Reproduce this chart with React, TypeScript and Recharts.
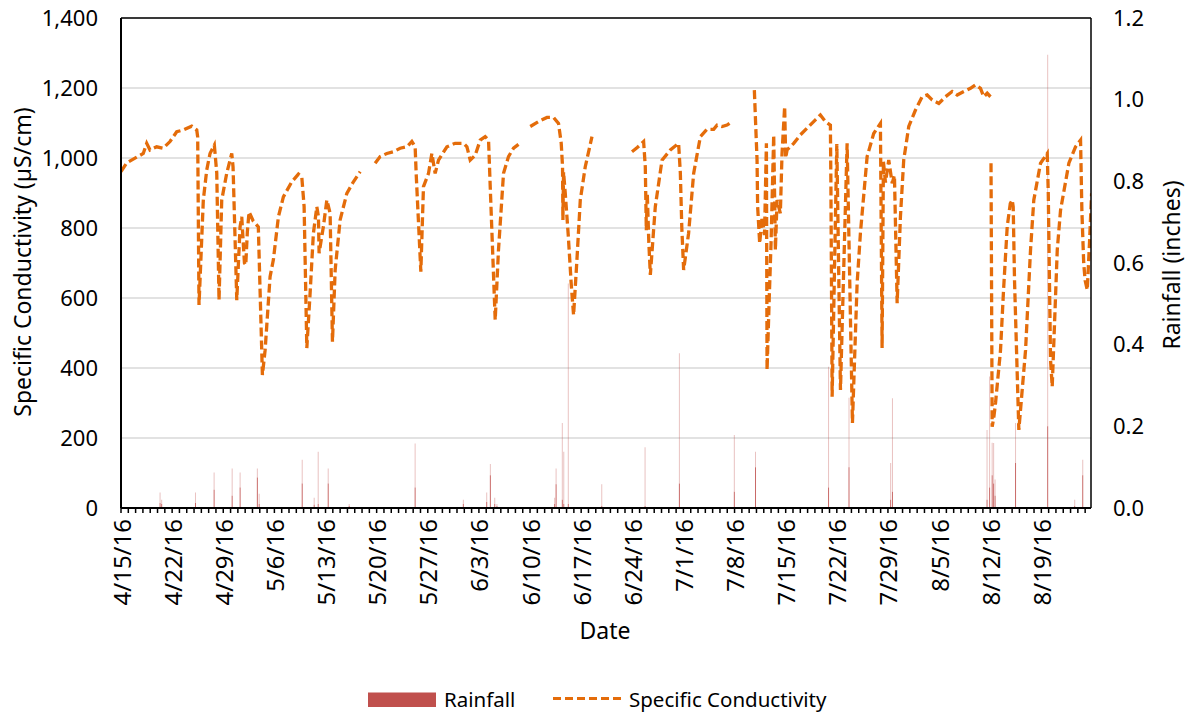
import React from 'react';
import {
  ComposedChart,
  Bar,
  Line,
  XAxis,
  YAxis,
  CartesianGrid,
  ReferenceLine,
  Legend,
} from 'recharts';

// days are counted from 4/15/16
const weekLabels = [
  '4/15/16', '4/22/16', '4/29/16', '5/6/16', '5/13/16', '5/20/16', '5/27/16',
  '6/3/16', '6/10/16', '6/17/16', '6/24/16', '7/1/16', '7/8/16', '7/15/16',
  '7/22/16', '7/29/16', '8/5/16', '8/12/16', '8/19/16',
];
const dayTicks = Array.from({ length: 133 }, (_, i) => i);

const condTicks = [0, 200, 400, 600, 800, 1000, 1200, 1400];
const rainTicks = [0, 0.2, 0.4, 0.6, 0.8, 1.0, 1.2];

// rainfall (inches): peak bar height and the darker, repeated part at its base
const rainDay = [
  5.38, 5.6, 10.23, 12.78, 15.25, 16.34, 18.7, 18.95, 24.84, 26.48, 27.03,
  28.4, 31.27, 40.3, 46.9, 50.1, 50.6, 51.2, 51.5, 59.4, 59.6, 60.45, 60.65,
  61.27, 65.85, 71.78, 76.48, 84.0, 86.9, 96.9, 99.7, 105.4, 105.65, 118.6,
  118.95, 119.3, 119.5, 119.7, 122.5, 126.9, 130.6, 131.7,
];
const rainPeak = [
  0.038, 0.02, 0.038, 0.087, 0.097, 0.087, 0.097, 0.035, 0.118, 0.025, 0.138,
  0.097, 0.01, 0.158, 0.02, 0.038, 0.108, 0.025, 0.01, 0.025, 0.097, 0.208, 0.138,
  0.55, 0.058, 0.149, 0.379, 0.179, 0.138, 0.346, 0.27, 0.11, 0.269, 0.191,
  0.322, 0.16, 0.159, 0.07, 0.208, 1.11, 0.02, 0.118,
];
const rainCore = [
  0.012, 0.01, 0.012, 0.045, 0.03, 0.05, 0.075, 0.01, 0.06, 0.008, 0.01,
  0.06, 0.005, 0.05, 0.01, 0.015, 0.08, 0.01, 0.005, 0.01, 0.058, 0.02, 0.01,
  0.01, 0.005, 0.005, 0.06, 0.04, 0.1, 0.05, 0.1, 0.02, 0.04, 0.02,
  0.05, 0.08, 0.06, 0.03, 0.11, 0.2, 0.005, 0.08,
];

// specific conductivity (µS/cm), [day, value], one array per logged stretch
const condApr: [number, number][] = [
  [0, 961], [0.78, 986], [3.05, 1013], [3.52, 1042], [3.97, 1023], [4.89, 1032],
  [5.79, 1028], [6.71, 1047], [7.63, 1075], [8.53, 1080], [9.68, 1091], [10.37, 1080],
  [10.5, 1060], [10.68, 580], [11.27, 880], [11.74, 966], [12.19, 1013], [12.78, 1037],
  [13.11, 957], [13.42, 594], [13.79, 880], [14.48, 957], [15.16, 1013], [15.34, 975],
  [15.85, 594], [16.3, 803], [16.53, 832], [16.9, 700], [17.08, 694], [17.3, 790],
  [17.53, 846], [18.1, 820], [18.8, 803], [19.36, 380], [19.73, 451], [20.41, 661],
  [20.86, 709], [21.55, 832], [22.23, 889], [23.38, 932], [24.29, 954], [24.75, 946],
  [25.07, 861], [25.44, 457], [25.89, 614], [26.34, 785], [26.81, 861], [27.03, 832],
  [27.12, 728], [27.71, 804], [28.18, 880], [28.63, 842], [28.95, 475], [29.32, 680],
  [30.0, 823], [30.92, 899], [31.82, 932], [32.74, 961],
];
const condMay: [number, number][] = [
  [34.79, 985], [35.48, 1004], [36.4, 1013], [37.3, 1018], [38.22, 1028], [39.14, 1032],
  [39.82, 1047], [40.27, 1032], [40.41, 956], [41.05, 675], [41.41, 918], [42.1, 956],
  [42.56, 1013], [43.01, 956], [43.47, 994], [44.62, 1032], [45.75, 1042], [46.89, 1042],
  [47.36, 1032], [47.81, 994], [48.49, 1008], [49.18, 1051], [49.86, 1061], [50.32, 1051],
  [50.55, 918], [51.23, 537], [51.68, 737], [52.37, 956], [53.05, 1004], [53.74, 1028],
  [54.42, 1039],
];
const condJun: [number, number][] = [
  [56.03, 1090], [57.16, 1104], [58.32, 1116], [59.22, 1116], [59.9, 1099], [60.27, 1042],
  [60.45, 975], [60.5, 823], [60.59, 960], [60.82, 900], [61.23, 780], [61.64, 640],
  [61.96, 551], [62.42, 709], [62.88, 880], [63.56, 975], [64.48, 1061],
];
const condJul: [number, number][] = [
  [69.96, 1018], [70.68, 1030], [71.55, 1047], [71.78, 975], [71.92, 794], [72.05, 900],
  [72.26, 760], [72.47, 666], [73.15, 861], [74.07, 994], [75.21, 1023], [76.34, 1042],
  [76.58, 956], [76.78, 800], [77.03, 680], [77.71, 785], [78.4, 956], [79.32, 1061],
  [80.23, 1082], [81.14, 1082], [81.6, 1094], [82.29, 1090], [82.97, 1094], [83.66, 1104],
];
const condJulAug: [number, number][] = [
  [86.71, 1194], [86.85, 1118], [87.08, 994], [87.16, 861], [87.44, 756], [87.77, 832],
  [88.1, 780], [88.36, 1042], [88.45, 394], [88.75, 600], [89.0, 760], [89.36, 1066],
  [89.59, 737], [89.82, 880], [90.27, 842], [90.5, 1013], [90.86, 1147], [91.0, 1000],
  [91.19, 1023], [92.1, 1042], [93.01, 1066], [94.15, 1090], [95.07, 1109], [95.75, 1123],
  [96.44, 1104], [97.12, 1094], [97.19, 928], [97.36, 318], [98.0, 1040], [98.5, 337],
  [99.41, 1042], [100.14, 243], [100.78, 642], [101.23, 785], [102.15, 1004], [103.05, 1070],
  [103.97, 1099], [104.2, 457], [104.38, 990], [104.66, 930], [105.11, 994], [105.58, 928],
  [105.89, 950], [106.26, 585], [106.71, 832], [107.16, 994], [107.85, 1090], [108.77, 1137],
  [109.68, 1175], [110.37, 1180], [111.05, 1166], [111.96, 1156], [112.88, 1175], [113.79, 1190],
  [114.48, 1180], [115.38, 1190], [116.3, 1199], [116.99, 1209], [117.67, 1199], [118.12, 1175],
  [118.59, 1185], [119.04, 1175],
];
const condAug: [number, number][] = [
  [119.11, 985], [119.27, 232], [119.5, 260], [119.73, 300], [120.41, 450], [120.82, 620],
  [121.33, 804], [121.75, 870], [122.01, 880], [122.15, 860], [122.33, 650], [122.92, 223],
  [123.84, 451], [124.52, 737], [124.97, 880], [125.89, 985], [126.81, 1013], [126.95, 900],
  [127.26, 423], [127.49, 347], [128.18, 737], [128.63, 851], [129.77, 985], [130.68, 1032],
  [131.37, 1051], [131.55, 850], [131.8, 700], [132.0, 650], [132.29, 623], [132.6, 760],
  [132.88, 899],
];

const rainData = rainDay.map((t, i) => ({
  t,
  core: rainCore[i],
  rest: rainPeak[i] - rainCore[i],
}));

// gaps between logged stretches become null points so the line breaks
const condData: { t: number; sc: number | null }[] = [];
[condApr, condMay, condJun, condJul, condJulAug, condAug].forEach((seg, i, all) => {
  seg.forEach(([t, sc]) => condData.push({ t, sc }));
  if (i < all.length - 1) {
    const next = all[i + 1][0][0];
    condData.push({ t: (seg[seg.length - 1][0] + next) / 2, sc: null });
  }
});

const FONT = '"Noto Sans", "Open Sans", sans-serif';
const RAIN = '#C0504D';
const COND = '#E46C0A';

const DateTick = (props: any) => {
  const { x, y, payload } = props;
  const d = payload.value;
  if (d % 7 !== 0) return null;
  const label = weekLabels[d / 7];
  if (!label) return null;
  return (
    <text
      x={x}
      y={y}
      transform={`rotate(-90 ${x} ${y})`}
      textAnchor="end"
      dominantBaseline="central"
      fontSize={24}
      fontFamily={FONT}
      fill="#000"
    >
      {label}
    </text>
  );
};

const LeftTitle = () => (
  <text x={22} y={262} transform="rotate(-90 22 262)" textAnchor="middle"
    dominantBaseline="central" fontSize={23} fontFamily={FONT} fill="#000">
    Specific Conductivity (µS/cm)
  </text>
);

const RightTitle = () => (
  <text x={1171} y={265} transform="rotate(-90 1171 265)" textAnchor="middle"
    dominantBaseline="central" fontSize={23} fontFamily={FONT} fill="#000">
    Rainfall (inches)
  </text>
);

const DateTitle = () => (
  <text x={605} y={630} textAnchor="middle" dominantBaseline="central"
    fontSize={23} fontFamily={FONT} fill="#000">
    Date
  </text>
);

const LegendBox = () => (
  <svg width={1188} height={32} style={{ display: 'block' }}>
    <rect x={368} y={9.5} width={68} height={14.5} fill={RAIN} />
    <text x={444} y={24} fontSize={20.5} fontFamily={FONT} fill="#000">Rainfall</text>
    <line x1={553} x2={623} y1={15.5} y2={15.5} stroke={COND} strokeWidth={3} strokeDasharray="8 4" />
    <text x={629} y={24} fontSize={20.5} fontFamily={FONT} fill="#000">Specific Conductivity</text>
  </svg>
);

export default function App() {
  return (
    <div style={{ position: 'absolute', left: 0, top: 0, width: 1188, height: 715, background: '#fff', fontFamily: FONT }}>
      <ComposedChart
        width={1188}
        height={715}
        data={rainData}
        margin={{ top: 18, right: 0, bottom: 0, left: 0 }}
      >
        <CartesianGrid yAxisId="left" vertical={false} stroke="#D9D9D9" strokeWidth={1.5} />
        <XAxis
          dataKey="t"
          type="number"
          domain={[0, 132.8]}
          allowDataOverflow
          ticks={dayTicks}
          interval={0}
          tickSize={5}
          tickMargin={6}
          tickLine={{ stroke: '#000', strokeWidth: 1.5 }}
          axisLine={{ stroke: '#000', strokeWidth: 2 }}
          tick={<DateTick />}
          height={207}
          label={<DateTitle />}
        />
        {/* separate hidden axis for the rain bars, so the bar width only depends on rain dates */}
        <XAxis
          xAxisId="rain"
          dataKey="t"
          type="number"
          domain={[0, 132.8]}
          allowDataOverflow
          hide
        />
        <YAxis
          yAxisId="left"
          domain={[0, 1400]}
          ticks={condTicks}
          width={121}
          tickSize={0}
          tickMargin={23}
          tickLine={false}
          axisLine={{ stroke: '#000', strokeWidth: 2 }}
          tick={{ fill: '#000', fontSize: 22, fontFamily: FONT }}
          tickFormatter={(v: number) => v.toLocaleString('en-US')}
          label={<LeftTitle />}
        />
        <YAxis
          yAxisId="right"
          orientation="right"
          domain={[0, 1.2]}
          ticks={rainTicks}
          width={97}
          tickSize={0}
          tickMargin={22}
          tickLine={false}
          axisLine={{ stroke: '#000', strokeWidth: 1.5 }}
          tick={{ fill: '#000', fontSize: 22, fontFamily: FONT, textAnchor: 'start' }}
          tickFormatter={(v: number) => v.toFixed(1)}
          label={<RightTitle />}
        />
        <ReferenceLine yAxisId="left" y={1400} stroke="#000" strokeWidth={1.5} />
        <Bar
          xAxisId="rain"
          yAxisId="right"
          dataKey="core"
          stackId="rain"
          name="Rainfall"
          fill={RAIN}
          fillOpacity={0.85}
          barSize={1}
          isAnimationActive={false}
        />
        <Bar
          xAxisId="rain"
          yAxisId="right"
          dataKey="rest"
          stackId="rain"
          name="Rainfall peak"
          fill={RAIN}
          fillOpacity={0.35}
          barSize={1}
          isAnimationActive={false}
        />
        <Line
          yAxisId="left"
          data={condData}
          dataKey="sc"
          name="Specific Conductivity"
          type="linear"
          stroke={COND}
          strokeWidth={3.3}
          strokeDasharray="9 4"
          dot={false}
          activeDot={false}
          connectNulls={false}
          isAnimationActive={false}
        />
        <Legend
          layout="horizontal"
          verticalAlign="middle"
          align="center"
          content={<LegendBox />}
          wrapperStyle={{ top: 683, left: 0, width: 1188 }}
        />
      </ComposedChart>
    </div>
  );
}
